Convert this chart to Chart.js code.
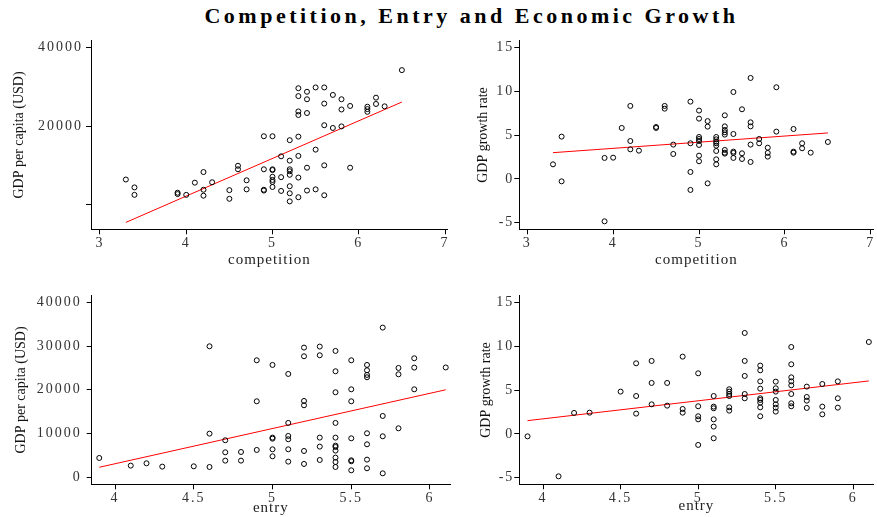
<!DOCTYPE html>
<html>
<head>
<meta charset="utf-8">
<script src="https://cdn.jsdelivr.net/npm/chart.js@4"></script>
<style>
  html, body { margin: 0; padding: 0; background: #fff; overflow: hidden; }
  #title { position: absolute; left: 33px; top: 1px; width: 877px; text-align: center;
           font: bold 22px 'Liberation Serif'; letter-spacing: 3.5px; line-height: 30px; color: #000; }
  canvas { position: absolute; }
</style>
</head>
<body>
<div id="title">Competition, Entry and Economic Growth</div>
<canvas id="tl"></canvas>
<canvas id="tr"></canvas>
<canvas id="bl"></canvas>
<canvas id="br"></canvas>
<script>
// competition vs GDP per capita
var compGdpX = [3.3,3.4,3.4, 3.9,3.9, 4.0, 4.1, 4.2,4.2,4.2, 4.3, 4.5,4.5, 4.6,4.6, 4.7,4.7,
  4.9,4.9,4.9,4.9, 5.0,5.0,5.0,5.0,5.0,5.0,5.0, 5.1,5.1,5.1,
  5.2,5.2,5.2,5.2,5.2,5.2,5.2,5.2, 5.3,5.3,5.3,5.3,5.3,5.3,5.3,5.3,
  5.4,5.4,5.4,5.4,5.4, 5.5,5.5,5.5, 5.6,5.6,5.6,5.6,5.6, 5.7,5.7, 5.8,5.8,5.8,
  5.9,5.9, 6.1,6.1,6.1, 6.2,6.2, 6.3, 6.5];
var compGdpY = [6400,4400,2500, 3050,2700, 2500, 5600, 8300,3800,2300, 5700, 3700,1500, 9900,9000, 6200,3900,
  17400,9000,3800,3600, 17400,9000,8800,7100,6300,5800,4500, 12300,7000,3500,
  16400,11200,9000,8500,7600,4700,2900,850, 29600,27600,23700,22800,17300,12400,6900,1900,
  28700,26800,23300,9400,3600, 29800,14000,3900, 29800,25700,20200,10000,2400, 27900,19500, 26800,24200,19900,
  25100,9400, 24900,24300,23600, 27200,25600, 25000, 34200];
var compGdpFitX = [3.3, 6.5];
var compGdpFitY = [-4500, 26100];

// competition vs GDP growth rate
var compGrowthX = [3.3,3.4,3.4, 3.9,3.9, 4.0, 4.1, 4.2,4.2,4.2, 4.3, 4.5,4.5, 4.6,4.6, 4.7,4.7,
  4.9,4.9,4.9,4.9, 5.0,5.0,5.0,5.0,5.0,5.0,5.0,5.0, 5.1,5.1,5.1,
  5.2,5.2,5.2,5.2,5.2,5.2,5.2,5.2, 5.3,5.3,5.3,5.3,5.3,5.3,5.3,5.3,
  5.4,5.4,5.4,5.4,5.4, 5.5,5.5,5.5, 5.6,5.6,5.6,5.6,5.6, 5.7,5.7, 5.8,5.8,5.8,
  5.9,5.9, 6.1,6.1,6.1, 6.2,6.2, 6.3, 6.5];
var compGrowthY = [1.67,4.83,-0.27, 2.4,-4.83, 2.43, 5.82, 8.33,4.33,3.38, 3.23, 5.93,5.82, 8.33,8.02, 3.92,2.85,
  8.82,4.07,0.8,-1.25, 7.8,6.88,4.79,4.56,4.33,3.88,2.66,2.02, 6.6,5.97,-0.5,
  4.79,4.52,4.26,4.07,3.8,3.19,2.24,1.67, 7.26,6.0,5.59,5.32,5.06,3.31,3.0,2.89,
  9.92,5.13,3.12,2.97,2.4, 7.95,2.93,2.28, 11.52,6.46,6.0,3.92,1.94, 4.56,4.07, 3.57,2.97,2.55,
  10.46,5.4, 5.7,3.12,3.0, 4.07,3.5, 3.0, 4.22];
var compGrowthFitX = [3.3, 6.5];
var compGrowthFitY = [3.0, 5.25];

// entry vs GDP per capita
var entryGdpX = [3.9, 4.1, 4.2, 4.3, 4.5, 4.6,4.6,4.6, 4.7,4.7,4.7, 4.8,4.8, 4.9,4.9,4.9,
  5.0,5.0,5.0,5.0,5.0, 5.1,5.1,5.1,5.1,5.1,5.1, 5.2,5.2,5.2,5.2,5.2,5.2, 5.3,5.3,5.3,5.3,5.3,
  5.4,5.4,5.4,5.4,5.4,5.4,5.4,5.4,5.4,5.4,5.4, 5.5,5.5,5.5,5.5,5.5,5.5,5.5,
  5.6,5.6,5.6,5.6,5.6,5.6,5.6,5.6, 5.7,5.7,5.7,5.7, 5.8,5.8,5.8, 5.9,5.9,5.9, 6.1];
var entryGdpY = [4420, 2670, 3200, 2440, 2510, 29940,9980,2360, 8460,5710,3810, 5790,3810, 26740,17370,6250,
  25680,9070,8840,6400,4800, 23620,12420,9450,8690,6400,3580, 29640,27660,17450,16460,6020,3050, 29870,27890,9070,7010,3960,
  28880,24230,19430,12420,9070,7240,6930,6100,4500,3500,2360, 26740,20110,17370,8910,3890,3660,1600,
  25680,24460,23390,22860,10060,7540,4040,2060, 34210,14020,9370,910, 24990,23540,11200, 27200,25070,20110, 25100];
var entryGdpFitX = [3.9, 6.1];
var entryGdpFitY = [2290, 20000];

// entry vs GDP growth rate
var entryGrowthX = [3.9, 4.1, 4.2, 4.3, 4.5, 4.6,4.6,4.6, 4.7,4.7,4.7, 4.8,4.8, 4.9,4.9,4.9,
  5.0,5.0,5.0,5.0,5.0, 5.1,5.1,5.1,5.1,5.1,5.1, 5.2,5.2,5.2,5.2,5.2,5.2, 5.3,5.3,5.3,5.3,5.3,
  5.4,5.4,5.4,5.4,5.4,5.4,5.4,5.4,5.4, 5.5,5.5,5.5,5.5,5.5,5.5,5.5,
  5.6,5.6,5.6,5.6,5.6,5.6,5.6,5.6, 5.7,5.7,5.7,5.7, 5.8,5.8,5.8, 5.9,5.9,5.9, 6.1];
var entryGrowthY = [-0.27, -4.83, 2.4, 2.43, 4.83, 8.06,4.33,2.32, 8.33,5.82,3.38, 5.82,3.23, 8.82,2.85,2.43,
  6.92,3.16,2.02,1.67,-1.25, 4.33,3.12,2.93,1.67,0.84,-0.49, 5.1,4.83,4.56,4.33,3.04,2.66, 11.52,8.33,6.62,4.56,4.07,
  7.8,7.26,6.0,5.17,4.07,3.88,3.57,3.04,2.02, 5.97,5.21,4.83,3.88,3.38,3.0,2.55,
  9.92,7.95,6.46,6.0,5.55,4.56,3.5,3.16, 5.4,4.22,3.8,2.97, 5.7,3.12,2.24, 6.0,4.07,3.0, 10.49];
var entryGrowthFitX = [3.9, 6.1];
var entryGrowthFitY = [1.52, 6.05];

// tick values and labels
var compTicks = [3, 4, 5, 6, 7];
var entryTicks = [4, 4.5, 5, 5.5, 6];
var compGdpTicks = [0, 20000, 40000];
var compGdpTickLabels = ['', '20000', '40000'];
var entryGdpTicks = [0, 10000, 20000, 30000, 40000];
var growthTicks = [-5, 0, 5, 10, 15];

var serif = "'Liberation Serif', 'Times New Roman', serif";

// letter spacing for tick labels and x titles (the original export is spaced out)
var spacing = {
  id: 'spacing',
  beforeDraw: function (chart) {
    Object.values(chart.scales).forEach(function (s) {
      if (s._spaced) return;
      var drawLabels = s.drawLabels, drawTitle = s.drawTitle;
      s.drawLabels = function (a) { this.ctx.letterSpacing = '2px'; drawLabels.call(this, a); this.ctx.letterSpacing = '0px'; };
      s.drawTitle = function () { this.ctx.letterSpacing = this.axis === 'x' ? '1px' : '0px'; drawTitle.call(this); this.ctx.letterSpacing = '0px'; };
      s._spaced = true;
    });
  }
};

function makePanel(id, box, plot, p) {
  var el = document.getElementById(id);
  el.style.left = box.left + 'px';
  el.style.top = box.top + 'px';
  el.width = box.width;
  el.height = box.height;

  var points = p.xs.map(function (x, i) { return { x: x, y: p.ys[i] }; });
  var fit = p.fitX.map(function (x, i) { return { x: x, y: p.fitY[i] }; });

  new Chart(el, {
    type: 'scatter',
    data: {
      datasets: [
        {
          data: points,
          borderColor: '#000',
          backgroundColor: 'rgba(0,0,0,0)',
          pointRadius: 2.5,
          pointHoverRadius: 2.5,
          pointBorderWidth: 1
        },
        {
          data: fit,
          showLine: true,
          borderColor: '#ff0000',
          borderWidth: 1,
          pointRadius: 0
        }
      ]
    },
    options: {
      responsive: false,
      animation: false,
      events: [],
      layout: { padding: { top: plot.top - box.top, right: box.left + box.width - plot.right, left: 0, bottom: 0 } },
      plugins: { legend: { display: false }, tooltip: { enabled: false } },
      scales: {
        x: {
          type: 'linear',
          min: p.xMin, max: p.xMax,
          afterBuildTicks: function (s) { s.ticks = p.xTicks.map(function (v) { return { value: v }; }); },
          afterFit: function (s) { s.height = box.top + box.height - plot.bottom; s.paddingLeft = 0; s.paddingRight = 0; },
          ticks: { autoSkip: false, maxRotation: 0, padding: 1, color: '#333', font: { family: serif, size: 14 },
                   callback: function (v) { return String(v); } },
          grid: { drawOnChartArea: false, tickLength: 5, color: '#000' },
          border: { display: true, color: '#000', width: 1 },
          title: { display: true, text: p.xTitle, color: '#222', font: { family: serif, size: 15 },
                   padding: { top: 0, bottom: p.xTitlePad } }
        },
        y: {
          type: 'linear',
          min: p.yMin, max: p.yMax,
          afterBuildTicks: function (s) { s.ticks = p.yTicks.map(function (v) { return { value: v }; }); },
          afterFit: function (s) { s.width = plot.left - box.left; s.paddingTop = 0; s.paddingBottom = 0; },
          ticks: { autoSkip: false, padding: p.yTickPad, color: '#333', font: { family: serif, size: 14 },
                   callback: function (v, i) { return p.yLabels ? p.yLabels[i] : String(v); } },
          grid: { drawOnChartArea: false, tickLength: 5, color: '#000' },
          border: { display: true, color: '#000', width: 1 },
          title: { display: true, text: p.yTitle, color: '#111', font: { family: serif, size: 14 },
                   padding: { top: p.yTitlePad, bottom: 0 } }
        }
      }
    },
    plugins: [spacing]
  });
}

makePanel('tl', { left: 0, top: 30, width: 455, height: 240 }, { left: 91, right: 447.6, top: 40.7, bottom: 229.3 }, {
  xs: compGdpX, ys: compGdpY, fitX: compGdpFitX, fitY: compGdpFitY,
  xMin: 2.896, xMax: 7.03, yMin: -6250, yMax: 41680,
  xTicks: compTicks, yTicks: compGdpTicks, yLabels: compGdpTickLabels,
  xTitle: 'competition', yTitle: 'GDP per capita (USD)', xTitlePad: 1, yTitlePad: 10.5, yTickPad: 3
});

makePanel('tr', { left: 455, top: 30, width: 422, height: 240 }, { left: 519.3, right: 876, top: 40.7, bottom: 229.3 }, {
  xs: compGrowthX, ys: compGrowthY, fitX: compGrowthFitX, fitY: compGrowthFitY,
  xMin: 2.9075, xMax: 7.031, yMin: -5.74, yMax: 15.77,
  xTicks: compTicks, yTicks: growthTicks,
  xTitle: 'competition', yTitle: 'GDP growth rate', xTitlePad: 1, yTitlePad: 19.5, yTickPad: 0
});

makePanel('bl', { left: 0, top: 285, width: 455, height: 232 }, { left: 91.7, right: 450, top: 295.7, bottom: 484.3 }, {
  xs: entryGdpX, ys: entryGdpY, fitX: entryGdpFitX, fitY: entryGdpFitY,
  xMin: 3.852, xMax: 6.127, yMin: -1600, yMax: 41500,
  xTicks: entryTicks, yTicks: entryGdpTicks,
  xTitle: 'entry', yTitle: 'GDP per capita (USD)', xTitlePad: 0, yTitlePad: 12.5, yTickPad: 5
});

makePanel('br', { left: 455, top: 285, width: 422, height: 232 }, { left: 519.3, right: 877, top: 295.7, bottom: 484.3 }, {
  xs: entryGrowthX, ys: entryGrowthY, fitX: entryGrowthFitX, fitY: entryGrowthFitY,
  xMin: 3.847, xMax: 6.13, yMin: -5.74, yMax: 15.77,
  xTicks: entryTicks, yTicks: growthTicks,
  xTitle: 'entry', yTitle: 'GDP growth rate', xTitlePad: 2, yTitlePad: 22.5, yTickPad: 0
});
</script>
</body>
</html>
